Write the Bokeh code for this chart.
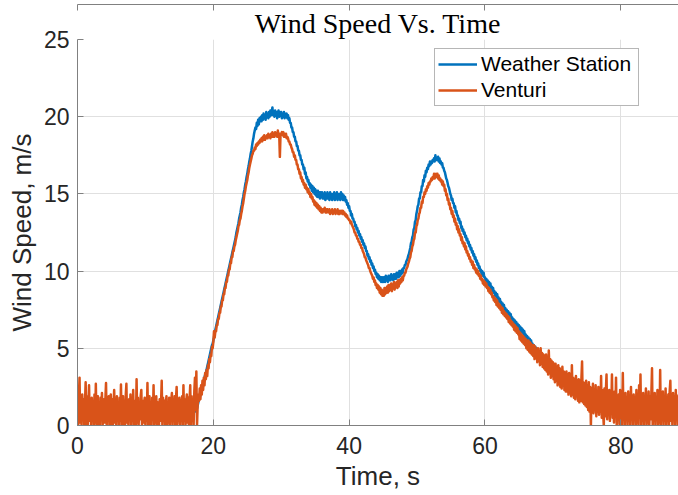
import numpy as np
from bokeh.plotting import figure
from bokeh.models import (ColumnDataSource, Range1d, FixedTicker, LinearAxis, Legend,
                          LegendItem, Title)
from bokeh.embed import file_html
from bokeh.resources import INLINE

# ---------------- data ----------------
SAMPLE_PERIOD = 0.1  # s between samples, first sample at t = 0; one row = one second

VENTURI = [
    1.2, 0.0, 1.8, 3.1, 0.2, 1.5, 0.0, 2.0, 0.4, 1.7,          # 0 s
    0.0, 1.4, 2.8, 0.1, 1.9, 0.0, 1.2, 2.6, 0.3, 1.6,          # 1 s
    0.0, 1.8, 0.5, 1.3, 0.0, 2.0, 0.2, 2.7, 0.0, 1.5,          # 2 s
    1.9, 0.1, 1.4, 0.0, 1.8, 0.6, 2.1, 0.0, 1.3, 1.7,          # 3 s
    0.2, 1.6, 2.75, 0.0, 1.5, 0.3, 1.9, 0.0, 1.4, 2.0,         # 4 s
    0.1, 1.7, 0.0, 1.3, 2.3, 0.2, 1.6, 0.0, 1.9, 0.4,          # 5 s
    1.5, 0.0, 1.8, 0.3, 2.65, 0.0, 1.4, 1.9, 0.1, 1.6,         # 6 s
    0.0, 1.9, 2.7, 0.2, 1.5, 0.0, 1.7, 0.4, 2.0, 0.0,          # 7 s
    1.4, 0.3, 2.3, 0.0, 1.6, 1.1, 0.0, 3.0, 0.2, 1.8,          # 8 s
    0.0, 1.5, 0.4, 1.9, 2.3, 0.0, 1.6, 0.2, 1.4, 1.8,          # 9 s
    0.0, 1.7, 0.3, 2.75, 0.0, 1.5, 1.9, 0.1, 1.3, 0.0,         # 10 s
    1.8, 0.4, 2.6, 0.0, 1.6, 0.2, 1.9, 0.0, 1.5, 1.2,          # 11 s
    0.0, 1.7, 0.3, 1.4, 2.9, 0.0, 1.8, 0.5, 1.6, 0.0,          # 12 s
    1.3, 1.9, 0.0, 1.5, 0.2, 1.8, 0.0, 1.2, 1.6, 2.1,          # 13 s
    0.0, 1.4, 0.6, 1.9, 0.0, 1.7, 2.5, 0.1, 1.5, 0.3,          # 14 s
    1.8, 0.0, 1.6, 0.4, 1.9, 0.0, 2.6, 0.3, 1.7, 0.0,          # 15 s
    1.5, 2.0, 0.2, 1.8, 0.0, 1.6, 2.6, 0.0, 1.9, 0.5,          # 16 s
    1.7, 0.0, 2.2, 3.1, 1.0, 3.5, 0.0, 1.4, 2.0, 1.6,          # 17 s
    2.4, 1.7, 2.6, 2.0, 2.9, 2.3, 3.1, 2.6, 3.4, 3.0,          # 18 s
    3.6, 3.2, 3.9, 3.7, 4.3, 4.1, 4.6, 4.5, 5.1, 5.0,          # 19 s
    5.4, 6.1, 5.7, 6.1, 6.1, 6.5, 6.5, 6.9, 6.9, 7.3,          # 20 s
    7.3, 7.7, 7.7, 8.1, 8.1, 8.5, 8.5, 8.9, 8.9, 9.3,          # 21 s
    9.3, 9.7, 9.7, 10.1, 10.1, 10.5, 10.5, 10.9, 10.9, 11.3,   # 22 s
    11.3, 11.6, 11.7, 12.0, 12.2, 12.4, 12.6, 12.9, 13.0, 13.3,  # 23 s
    13.4, 13.7, 13.9, 14.2, 14.4, 14.7, 15.0, 15.2, 15.5, 15.7,  # 24 s
    15.9, 16.2, 16.4, 16.7, 16.9, 17.1, 17.3, 17.5, 17.6, 17.8,  # 25 s
    17.8, 18.0, 17.9, 18.2, 18.1, 18.3, 18.2, 18.4, 18.3, 18.5,  # 26 s
    18.4, 18.6, 18.4, 18.7, 18.5, 18.8, 18.5, 18.7, 18.6, 18.8,  # 27 s
    18.6, 18.9, 18.7, 18.8, 18.6, 18.9, 18.7, 19.0, 18.7, 18.9,  # 28 s
    18.7, 19.0, 18.8, 18.9, 18.7, 19.1, 18.8, 18.9, 17.4, 18.9,  # 29 s
    18.8, 19.0, 18.8, 19.0, 18.7, 18.9, 18.7, 18.9, 18.6, 18.7,  # 30 s
    18.6, 18.4, 18.4, 18.2, 18.2, 18.0, 17.9, 17.7, 17.7, 17.4,  # 31 s
    17.5, 17.2, 17.2, 16.9, 16.9, 16.6, 16.6, 16.3, 16.4, 16.0,  # 32 s
    16.1, 15.8, 15.9, 15.6, 15.7, 15.4, 15.6, 15.3, 15.4, 15.1,  # 33 s
    15.3, 15.0, 15.1, 14.8, 15.0, 14.7, 14.8, 14.5, 14.6, 14.3,  # 34 s
    14.5, 14.2, 14.4, 14.1, 14.3, 14.0, 14.2, 13.9, 14.1, 13.8,  # 35 s
    14.0, 13.8, 14.0, 13.9, 14.1, 13.8, 14.0, 13.8, 14.0, 13.9,  # 36 s
    13.8, 14.0, 13.7, 13.9, 13.8, 14.0, 13.7, 13.9, 13.8, 14.0,  # 37 s
    13.7, 13.9, 13.8, 14.0, 13.7, 13.9, 13.7, 13.9, 13.8, 13.9,  # 38 s
    13.7, 13.9, 13.7, 13.8, 13.6, 13.7, 13.5, 13.6, 13.4, 13.4,  # 39 s
    13.3, 13.3, 13.1, 13.2, 13.0, 12.9, 12.8, 12.7, 12.5, 12.5,  # 40 s
    12.3, 12.3, 12.1, 12.1, 11.9, 11.9, 11.7, 11.7, 11.5, 11.5,  # 41 s
    11.3, 11.2, 11.1, 10.9, 10.9, 10.7, 10.6, 10.5, 10.4, 10.2,  # 42 s
    10.2, 10.0, 9.9, 9.8, 9.7, 9.5, 9.6, 9.3, 9.4, 9.1,          # 43 s
    9.2, 8.9, 9.1, 8.8, 9.0, 8.6, 8.9, 8.5, 8.8, 8.4,            # 44 s
    8.7, 8.4, 8.9, 8.5, 8.9, 8.6, 9.0, 8.6, 9.1, 8.7,            # 45 s
    9.1, 8.8, 9.2, 8.7, 9.1, 8.9, 9.3, 8.8, 9.2, 9.0,            # 46 s
    9.3, 8.9, 9.4, 9.0, 9.4, 9.2, 9.5, 9.3, 9.6, 9.4,            # 47 s
    9.7, 9.7, 9.9, 9.9, 10.1, 10.2, 10.3, 10.5, 10.6, 10.8,      # 48 s
    10.9, 11.2, 11.3, 11.6, 11.7, 12.0, 12.1, 12.5, 12.5, 12.9,  # 49 s
    13.0, 13.3, 13.4, 13.7, 13.8, 14.1, 14.1, 14.5, 14.4, 14.8,  # 50 s
    14.8, 15.1, 15.0, 15.3, 15.2, 15.5, 15.4, 15.7, 15.6, 15.8,  # 51 s
    15.8, 16.0, 15.9, 16.1, 16.0, 16.3, 16.0, 16.2, 16.3, 16.1,  # 52 s
    16.3, 16.0, 16.2, 15.9, 16.0, 15.8, 15.9, 15.6, 15.8, 15.5,  # 53 s
    15.6, 15.2, 15.3, 14.9, 15.0, 14.6, 14.7, 14.3, 14.4, 14.0,  # 54 s
    14.1, 13.7, 13.9, 13.5, 13.6, 13.2, 13.4, 13.0, 13.1, 12.7,  # 55 s
    12.9, 12.5, 12.7, 12.3, 12.4, 12.0, 12.2, 11.8, 11.9, 11.6,  # 56 s
    11.8, 11.4, 11.6, 11.2, 11.3, 11.0, 11.1, 10.8, 10.9, 10.6,  # 57 s
    10.7, 10.4, 10.6, 10.2, 10.4, 10.1, 10.2, 9.9, 10.1, 9.8,    # 58 s
    10.0, 9.7, 9.8, 9.5, 9.7, 9.4, 9.5, 9.2, 9.4, 9.1,           # 59 s
    9.3, 9.0, 9.2, 8.9, 9.0, 8.7, 8.9, 8.6, 8.8, 8.5,            # 60 s
    8.6, 8.3, 8.4, 8.1, 8.3, 8.0, 8.2, 7.8, 8.1, 7.7,            # 61 s
    7.9, 7.6, 7.8, 7.5, 7.7, 7.3, 7.6, 7.2, 7.4, 7.1,            # 62 s
    7.3, 7.0, 7.2, 6.9, 7.1, 6.7, 7.0, 6.6, 6.8, 6.5,            # 63 s
    6.7, 6.4, 6.6, 6.2, 6.5, 6.1, 6.4, 6.0, 6.3, 5.9,            # 64 s
    6.1, 5.6, 6.0, 5.5, 5.9, 5.4, 5.8, 5.3, 5.7, 5.2,            # 65 s
    5.6, 5.0, 5.5, 4.9, 5.5, 4.8, 5.4, 4.7, 5.3, 4.6,            # 66 s
    5.2, 4.5, 5.2, 4.3, 5.1, 4.4, 4.9, 4.1, 5.0, 4.2,            # 67 s
    4.8, 3.9, 5.0, 4.0, 4.7, 3.8, 4.6, 3.7, 4.5, 3.6,            # 68 s
    4.6, 3.5, 4.4, 3.3, 4.85, 3.4, 4.3, 3.1, 4.2, 3.2,           # 69 s
    4.1, 3.0, 4.0, 2.8, 4.0, 2.9, 3.8, 2.6, 3.9, 2.7,            # 70 s
    3.7, 2.5, 3.6, 2.4, 3.8, 2.6, 3.5, 2.3, 3.4, 2.2,            # 71 s
    3.5, 2.2, 3.3, 2.0, 3.4, 2.1, 3.2, 1.9, 3.9, 2.0,            # 72 s
    3.1, 1.8, 3.0, 1.7, 3.2, 1.9, 2.9, 1.6, 3.0, 1.5,            # 73 s
    2.9, 1.6, 3.0, 4.15, 1.5, 2.8, 1.4, 2.7, 1.3, 2.9,           # 74 s
    1.2, 2.6, 1.0, 2.8, 0.9, 2.5, 0.0, 2.4, 1.1, 2.7,            # 75 s
    0.8, 2.3, 1.0, 2.6, 0.6, 2.2, 0.9, 2.5, 0.7, 2.1,            # 76 s
    0.9, 3.2, 0.5, 2.3, 0.8, 0.0, 2.4, 0.6, 2.2, 3.3,            # 77 s
    0.4, 2.0, 0.7, 2.3, 0.3, 2.1, 0.8, 3.3, 0.5, 1.9,            # 78 s
    0.2, 2.2, 0.6, 3.1, 0.0, 1.8, 0.5, 2.0, 0.1, 2.3,            # 79 s
    0.3, 1.9, 0.0, 3.4, 0.4, 1.7, 0.0, 2.1, 0.6, 1.8,            # 80 s
    0.0, 2.2, 0.3, 1.6, 0.0, 2.5, 0.5, 1.9, 0.0, 2.0,            # 81 s
    0.4, 1.7, 0.0, 2.3, 0.2, 1.8, 0.0, 2.6, 0.5, 3.3,            # 82 s
    0.0, 1.9, 0.3, 2.1, 0.0, 1.7, 0.6, 2.4, 0.0, 1.8,            # 83 s
    0.2, 2.2, 0.0, 1.9, 0.4, 2.0, 3.7, 0.0, 1.6, 0.3,            # 84 s
    2.1, 0.0, 1.8, 0.5, 2.3, 0.0, 1.9, 0.2, 3.6, 0.0,            # 85 s
    1.7, 0.4, 2.2, 0.0, 1.9, 0.3, 2.4, 0.0, 1.6, 0.5,            # 86 s
    2.0, 0.0, 2.2, 2.9, 0.3, 1.8, 0.0, 2.1, 0.4, 1.9,            # 87 s
    0.0, 2.3, 0.5, 1.7, 0.0, 2.0,                                # 88 s
]

WEATHER_STATION = [
    0.8, 0.9, 0.7, 1.0, 0.8, 0.9, 0.6, 0.8, 0.9, 0.7,            # 0 s
    0.9, 0.7, 0.8, 1.0, 0.7, 0.9, 0.8, 0.6, 0.9, 0.8,            # 1 s
    0.7, 0.9, 0.8, 0.7, 1.0, 0.8, 0.9, 0.7, 0.8, 0.9,            # 2 s
    0.8, 0.6, 0.9, 0.8, 0.7, 0.9, 1.0, 0.8, 0.7, 0.8,            # 3 s
    0.9, 0.8, 0.7, 0.9, 0.8, 0.6, 0.9, 0.8, 1.0, 0.7,            # 4 s
    0.8, 0.9, 0.7, 0.8, 0.9, 0.8, 0.7, 1.0, 0.8, 0.9,            # 5 s
    0.7, 0.8, 0.9, 0.7, 0.8, 1.0, 0.8, 0.7, 0.9, 0.8,            # 6 s
    0.9, 0.7, 0.8, 0.9, 0.6, 0.8, 0.9, 0.8, 0.7, 1.0,            # 7 s
    0.8, 0.9, 0.7, 0.8, 0.9, 0.7, 0.8, 1.0, 0.8, 0.7,            # 8 s
    0.9, 0.8, 0.7, 0.9, 0.8, 0.9, 0.7, 0.8, 0.6, 0.9,            # 9 s
    0.8, 0.7, 0.9, 0.8, 1.0, 0.7, 0.8, 0.9, 0.8, 0.7,            # 10 s
    0.9, 0.8, 0.7, 0.9, 0.8, 0.7, 1.0, 0.8, 0.9, 0.8,            # 11 s
    0.7, 0.9, 0.8, 0.7, 0.9, 0.8, 0.8, 0.7, 0.9, 1.0,            # 12 s
    0.8, 0.7, 0.9, 0.8, 0.7, 0.9, 0.8, 0.9, 0.7, 0.8,            # 13 s
    0.9, 0.8, 0.7, 1.0, 0.8, 0.9, 0.7, 0.8, 0.9, 0.8,            # 14 s
    0.7, 0.9, 0.8, 0.8, 0.9, 0.7, 0.8, 1.0, 0.8, 0.9,            # 15 s
    0.8, 0.7, 0.9, 0.8, 0.9, 0.8, 0.7, 0.9, 0.8, 1.0,            # 16 s
    0.9, 0.8, 1.0, 0.9, 1.0, 1.1, 1.1, 1.3, 1.5, 1.7,            # 17 s
    1.8, 2.0, 2.2, 2.4, 2.5, 2.7, 2.9, 3.1, 3.3, 3.4,            # 18 s
    3.6, 3.8, 4.0, 4.2, 4.4, 4.6, 4.8, 5.0, 5.2, 5.3,            # 19 s
    5.5, 5.7, 6.0, 6.2, 6.4, 6.6, 6.8, 7.0, 7.2, 7.4,            # 20 s
    7.6, 7.8, 8.0, 8.2, 8.4, 8.6, 8.8, 9.0, 9.2, 9.4,            # 21 s
    9.6, 9.8, 10.0, 10.2, 10.4, 10.6, 10.8, 11.0, 11.2, 11.4,    # 22 s
    11.6, 11.8, 12.0, 12.2, 12.5, 12.7, 12.9, 13.1, 13.4, 13.6,  # 23 s
    13.8, 14.1, 14.3, 14.6, 14.8, 15.1, 15.3, 15.6, 15.8, 16.1,  # 24 s
    16.3, 16.6, 16.8, 17.1, 17.3, 17.6, 17.8, 18.1, 18.4, 18.6,  # 25 s
    18.9, 19.1, 19.3, 19.2, 19.6, 19.4, 19.8, 19.5, 19.9, 19.7,  # 26 s
    20.0, 19.7, 20.1, 19.8, 20.2, 19.9, 20.1, 19.8, 20.3, 20.0,  # 27 s
    20.2, 19.9, 20.3, 20.0, 20.4, 20.1, 20.3, 20.6, 20.1, 20.3,  # 28 s
    20.0, 20.4, 20.1, 20.3, 19.9, 20.2, 20.4, 20.0, 20.3, 20.1,  # 29 s
    20.3, 19.9, 20.2, 20.0, 20.3, 19.9, 20.2, 20.0, 20.2, 19.9,  # 30 s
    20.1, 19.8, 19.9, 19.6, 19.6, 19.3, 19.3, 19.0, 19.0, 18.7,  # 31 s
    18.7, 18.4, 18.4, 18.1, 18.1, 17.8, 17.8, 17.5, 17.5, 17.2,  # 32 s
    17.2, 16.9, 16.9, 16.6, 16.7, 16.3, 16.4, 16.0, 16.1, 15.8,  # 33 s
    15.9, 15.6, 15.7, 15.4, 15.6, 15.2, 15.5, 15.1, 15.4, 15.0,  # 34 s
    15.3, 14.9, 15.2, 14.8, 15.2, 14.8, 15.1, 14.7, 15.1, 14.8,  # 35 s
    15.1, 14.7, 15.0, 14.7, 15.1, 14.6, 15.0, 14.7, 15.1, 14.7,  # 36 s
    15.0, 14.6, 15.1, 14.7, 15.0, 14.6, 15.0, 14.7, 15.1, 14.6,  # 37 s
    15.0, 14.7, 15.1, 14.6, 15.0, 14.7, 15.0, 14.6, 15.1, 14.7,  # 38 s
    15.0, 14.6, 14.9, 14.6, 14.8, 14.5, 14.6, 14.3, 14.4, 14.1,  # 39 s
    14.2, 13.9, 13.9, 13.6, 13.7, 13.4, 13.4, 13.2, 13.2, 12.9,  # 40 s
    13.0, 12.7, 12.8, 12.5, 12.6, 12.3, 12.4, 12.1, 12.2, 11.9,  # 41 s
    12.0, 11.7, 11.8, 11.5, 11.6, 11.3, 11.3, 11.0, 11.1, 10.8,  # 42 s
    10.9, 10.6, 10.7, 10.4, 10.5, 10.2, 10.3, 10.0, 10.1, 9.8,   # 43 s
    9.9, 9.6, 9.8, 9.5, 9.7, 9.4, 9.6, 9.3, 9.6, 9.3,            # 44 s
    9.6, 9.3, 9.6, 9.3, 9.7, 9.4, 9.6, 9.3, 9.7, 9.4,            # 45 s
    9.7, 9.4, 9.8, 9.5, 9.7, 9.4, 9.8, 9.5, 9.8, 9.5,            # 46 s
    9.9, 9.6, 9.9, 9.6, 10.0, 9.7, 10.0, 9.8, 10.1, 9.9,         # 47 s
    10.2, 10.2, 10.4, 10.4, 10.6, 10.7, 10.8, 11.0, 11.1, 11.3,  # 48 s
    11.5, 11.8, 11.9, 12.2, 12.3, 12.7, 12.8, 13.2, 13.3, 13.7,  # 49 s
    13.9, 14.2, 14.3, 14.7, 14.7, 15.1, 15.1, 15.5, 15.5, 15.9,  # 50 s
    15.8, 16.2, 16.1, 16.5, 16.4, 16.7, 16.6, 16.9, 16.8, 17.1,  # 51 s
    16.9, 17.1, 17.0, 17.2, 17.1, 17.3, 17.1, 17.5, 17.2, 17.3,  # 52 s
    17.2, 17.4, 17.1, 17.3, 17.0, 17.1, 16.9, 17.0, 16.7, 16.7,  # 53 s
    16.5, 16.4, 16.2, 16.0, 15.9, 15.7, 15.5, 15.4, 15.2, 15.0,  # 54 s
    14.9, 14.6, 14.7, 14.4, 14.4, 14.1, 14.2, 13.8, 13.9, 13.6,  # 55 s
    13.6, 13.3, 13.4, 13.1, 13.2, 12.8, 12.9, 12.6, 12.7, 12.4,  # 56 s
    12.5, 12.2, 12.3, 12.0, 12.1, 11.8, 11.9, 11.6, 11.7, 11.4,  # 57 s
    11.5, 11.2, 11.3, 11.0, 11.1, 10.8, 10.9, 10.6, 10.7, 10.4,  # 58 s
    10.5, 10.2, 10.3, 10.0, 10.1, 9.8, 10.0, 9.7, 9.9, 9.6,      # 59 s
    9.6, 9.4, 9.5, 9.3, 9.4, 9.1, 9.3, 9.0, 9.2, 8.9,            # 60 s
    9.0, 8.7, 8.9, 8.6, 8.7, 8.4, 8.6, 8.3, 8.5, 8.2,            # 61 s
    8.3, 8.0, 8.2, 7.9, 8.0, 7.7, 7.9, 7.6, 7.8, 7.5,            # 62 s
    7.6, 7.4, 7.5, 7.2, 7.4, 7.1, 7.3, 7.0, 7.2, 6.9,            # 63 s
    7.0, 6.8, 6.9, 6.6, 6.8, 6.5, 6.7, 6.4, 6.6, 6.3,            # 64 s
    6.5, 6.2, 6.4, 6.1, 6.3, 6.0, 6.2, 5.9, 6.1, 5.8,            # 65 s
    5.9, 5.6, 5.8, 5.5, 5.7, 5.4, 5.6, 5.3, 5.5, 5.2,            # 66 s
    5.3, 5.1, 5.2, 5.0, 5.1, 4.9, 5.0, 4.8, 4.9, 4.7,            # 67 s
    4.8, 4.6, 4.7, 4.5, 4.6, 4.4, 4.5, 4.3, 4.4, 4.2,            # 68 s
    4.3, 4.1, 4.2, 4.0, 4.1, 3.9, 4.0, 3.8, 3.9, 3.7,            # 69 s
    3.8, 3.6, 3.7, 3.5, 3.6, 3.4, 3.5, 3.3, 3.5, 3.3,            # 70 s
    3.4, 3.2, 3.3, 3.1, 3.3, 3.1, 3.2, 3.0, 3.1, 2.9,            # 71 s
    3.0, 2.9, 3.0, 2.8, 2.9, 2.7, 2.8, 2.7, 2.8, 2.6,            # 72 s
    2.7, 2.5, 2.6, 2.5, 2.6, 2.4, 2.5, 2.3, 2.4, 2.3,            # 73 s
    2.4, 2.2, 2.3, 2.2, 2.3, 2.1, 2.2, 2.0, 2.1, 2.0,            # 74 s
    2.1, 1.9, 2.0, 1.9, 2.0, 1.8, 1.9, 1.8, 1.9, 1.7,            # 75 s
    1.8, 1.7, 1.8, 1.6, 1.7, 1.6, 1.7, 1.5, 1.6, 1.5,            # 76 s
    1.6, 1.4, 1.5, 1.4, 1.5, 1.3, 1.4, 1.3, 1.4, 1.3,            # 77 s
    1.4, 1.2, 1.3, 1.2, 1.3, 1.1, 1.2, 1.1, 1.2, 1.1,            # 78 s
    1.2, 1.0, 1.1, 1.0, 1.1, 1.0, 1.1, 0.9, 1.0, 0.9,            # 79 s
    1.0, 0.9, 1.0, 0.8, 1.0, 0.9, 1.0, 0.8, 0.9, 0.8,            # 80 s
    0.9, 1.0, 0.8, 0.9, 1.0, 0.8, 0.9, 0.9, 1.0, 0.8,            # 81 s
    0.9, 0.8, 1.0, 0.9, 0.8, 0.9, 1.0, 0.8, 0.9, 0.9,            # 82 s
    1.0, 0.8, 0.9, 0.8, 1.0, 0.9, 0.8, 0.9, 1.0, 0.8,            # 83 s
    0.9, 0.9, 0.8, 1.0, 0.8, 0.9, 0.9, 0.8, 1.0, 0.9,            # 84 s
    0.8, 0.9, 1.0, 0.8, 0.9, 0.8, 1.0, 0.9, 0.8, 0.9,            # 85 s
    0.9, 0.8, 0.9, 1.0, 0.8, 0.9, 0.8, 0.9, 1.0, 0.8,            # 86 s
    0.9, 1.0, 0.8, 0.9, 0.8, 0.9, 1.0, 0.8, 0.9, 0.9,            # 87 s
    0.8, 0.9, 1.0, 0.8, 0.9, 0.8,                                # 88 s
]

X_TICKS = [0, 20, 40, 60, 80]
Y_TICKS = [0, 5, 10, 15, 20, 25]
SERIES_NAMES = ["Weather Station", "Venturi"]
SERIES_COLORS = ["#0072BD", "#D95319"]

n = min(len(VENTURI), len(WEATHER_STATION))
time = np.arange(n) * SAMPLE_PERIOD
source = ColumnDataSource(dict(t=time, ws=WEATHER_STATION[:n], ven=VENTURI[:n]))

# ---------------- figure ----------------
AX = "#262626"
SPINE = "#808080"
FONT = "Liberation Sans"

p = figure(width=678, height=495, output_backend="svg", toolbar_location=None,
           x_range=Range1d(0, 88.5), y_range=Range1d(0, 25),
           min_border_left=77, min_border_right=0, min_border_top=39, min_border_bottom=70,
           background_fill_color="white", border_fill_color="white")
p.outline_line_color = None

title = Title(text="Wind Speed Vs. Time", align="center", offset=8,
              text_font="Liberation Serif", text_font_size="28px",
              text_font_style="normal", text_color="#000000", standoff=2)
p.add_layout(title, "above")

for ax in (p.xaxis[0], p.yaxis[0]):
    ax.axis_line_color = SPINE
    ax.major_tick_line_color = SPINE
    ax.major_tick_in = 6
    ax.major_tick_out = 0
    ax.minor_tick_line_color = None
    ax.major_label_text_font = FONT
    ax.major_label_text_font_size = "23px"
    ax.major_label_text_color = AX
    ax.axis_label_text_font = FONT
    ax.axis_label_text_font_size = "26px"
    ax.axis_label_text_font_style = "normal"
    ax.axis_label_text_color = AX

p.xaxis.ticker = FixedTicker(ticks=X_TICKS)
p.yaxis.ticker = FixedTicker(ticks=Y_TICKS)
p.xaxis.axis_label = "Time, s"
p.yaxis.axis_label = "Wind Speed, m/s"
p.xaxis.major_label_standoff = 11
p.yaxis.major_label_standoff = 8
p.xaxis.axis_label_standoff = 4
p.yaxis.axis_label_standoff = 4

# box edge on top, with inward tick marks (minor ticks carry no labels)
top = LinearAxis(ticker=FixedTicker(ticks=[], minor_ticks=X_TICKS), axis_line_color=SPINE,
                 major_tick_line_color=None, minor_tick_line_color=SPINE,
                 minor_tick_in=6, minor_tick_out=0, major_label_standoff=0)
p.add_layout(top, "above")

p.xgrid.ticker = FixedTicker(ticks=X_TICKS)
p.ygrid.ticker = FixedTicker(ticks=Y_TICKS)
p.grid.grid_line_color = "#e0e0e0"
p.grid.grid_line_width = 1

r_ws = p.line("t", "ws", source=source, line_color=SERIES_COLORS[0], line_width=2.5,
              line_join="round")
r_ven = p.line("t", "ven", source=source, line_color=SERIES_COLORS[1], line_width=2.5,
               line_join="round")

legend = Legend(items=[LegendItem(label=SERIES_NAMES[0], renderers=[r_ws]),
                       LegendItem(label=SERIES_NAMES[1], renderers=[r_ven])],
                location=(357, 319), orientation="vertical",
                glyph_width=39, glyph_height=20, label_height=20, label_width=154,
                label_standoff=4, spacing=2, padding=3, margin=0,
                label_text_font=FONT, label_text_font_size="21px", label_text_color="#000000",
                border_line_color="#6e6e6e", border_line_width=1,
                background_fill_color="white", background_fill_alpha=1.0)
p.add_layout(legend, "center")

open("out.html", "w").write(file_html(p, INLINE))
